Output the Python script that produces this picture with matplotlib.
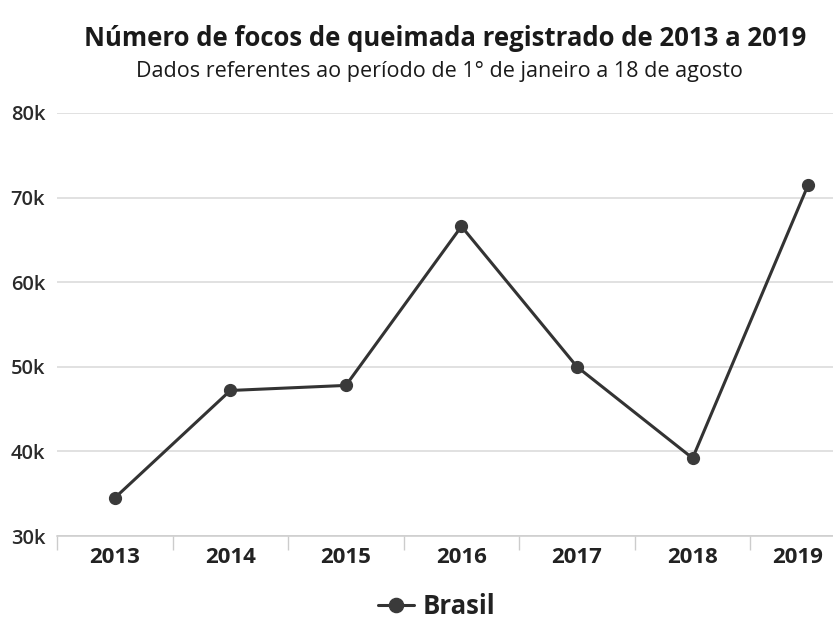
import matplotlib
matplotlib.use("Agg")
import matplotlib.pyplot as plt
from matplotlib.transforms import ScaledTranslation

years = ["2013", "2014", "2015", "2016", "2017", "2018", "2019"]
focos = [34500, 47200, 47800, 66600, 50000, 39200, 71500]
yticks = [30000, 40000, 50000, 60000, 70000, 80000]
ytick_labels = ["30k", "40k", "50k", "60k", "70k", "80k"]

plt.rcParams['font.family'] = ['Open Sans', 'DejaVu Sans']

fig = plt.figure(figsize=(8.33, 6.19), dpi=100)
ax = fig.add_axes([57/833, 1 - 536/619, 1 - 57/833, (536 - 113)/619])

x = list(range(len(years)))
ax.plot(x, focos, color="#333333", lw=2.2, marker="o", ms=8.5,
        markerfacecolor="#3a3a3a", markeredgecolor="#3a3a3a", label="Brasil",
        solid_capstyle="round", zorder=3)

ax.set_xlim(-0.5, 6.215)
ax.set_ylim(30000, 80000)
ax.set_yticks(yticks)
ax.set_yticklabels(ytick_labels)
ax.set_xticks(x)
ax.set_xticklabels(years)
ax.set_xticks([i - 0.5 for i in range(len(years))], minor=True)

ax.grid(axis="y", color="#d9d9d9", lw=1.1)
ax.set_axisbelow(True)
for s in ["top", "right", "left"]:
    ax.spines[s].set_visible(False)
ax.spines["bottom"].set_color("#cccccc")
ax.spines["bottom"].set_linewidth(1.1)

ax.tick_params(axis="y", length=0, pad=8.5, labelsize=14.5, labelcolor="#2a2a2a")
ax.tick_params(axis="x", which="major", length=0, pad=8, labelsize=16, labelcolor="#222222")
ax.tick_params(axis="x", which="minor", length=10, width=1, color="#cccccc")
for lab in ax.get_xticklabels():
    lab.set_fontweight("bold")
for lab in ax.get_yticklabels():
    lab.set_fontweight("semibold")
# last label shifted left to fit inside the figure
last = ax.get_xticklabels()[-1]
last.set_transform(last.get_transform() + ScaledTranslation(-11/100, 0, fig.dpi_scale_trans))

fig.text(0.534, 1 - 38/619, "Número de focos de queimada registrado de 2013 a 2019",
         ha="center", va="center", fontsize=18.5, fontweight="bold", color="#1a1a1a")
fig.text(0.527, 1 - 71/619, "Dados referentes ao período de 1° de janeiro a 18 de agosto",
         ha="center", va="center", fontsize=15.5, color="#1a1a1a")

leg = fig.legend(loc="center", bbox_to_anchor=(0.524, 1 - 606/619), frameon=False,
                 fontsize=18.5, handlelength=1.4, handletextpad=0.35, markerscale=1.2)
for t in leg.get_texts():
    t.set_fontweight("bold")
    t.set_color("#222222")

fig.savefig("out.png", dpi=100)
